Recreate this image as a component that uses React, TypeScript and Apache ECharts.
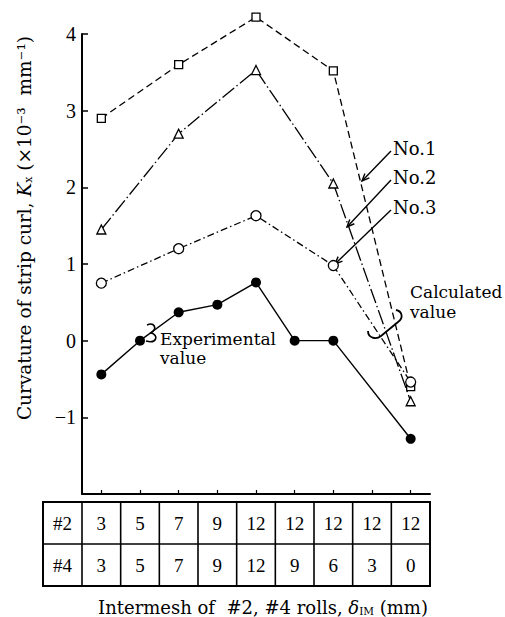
import React, { useEffect, useRef } from 'react';
import * as echarts from 'echarts';

// Table rows (intermesh of #2 and #4 rolls, mm)
const rollNo2 = [3, 5, 7, 9, 12, 12, 12, 12, 12];
const rollNo4 = [3, 5, 7, 9, 12, 9, 6, 3, 0];
const categories = rollNo2.map((v, i) => `${v}/${rollNo4[i]}`);

// Calculated values (null = not computed at that setting)
const calcNo1 = [2.9, null, 3.6, null, 4.22, null, 3.52, null, -0.6];
const calcNo2 = [1.45, null, 2.7, null, 3.53, null, 2.05, null, -0.79];
const calcNo3 = [0.75, null, 1.2, null, 1.63, null, 0.98, null, -0.54];
// Experimental values
const experimental = [-0.44, 0, 0.37, 0.47, 0.76, 0, 0, null, -1.28];

const yMin = -2;
const yMax = 4;
const yInterval = 1;

const W = 505;
const H = 617;
const GRID_LEFT = 82;
const GRID_RIGHT = 75;
const GRID_TOP = 34;
const GRID_BOTTOM = 123;
const GRID_W = W - GRID_LEFT - GRID_RIGHT;

const SERIF = 'DejaVu Serif, serif';
const NUMF = 'Liberation Serif, serif';

function arrowHead(x1: number, y1: number, x2: number, y2: number, len = 8, ang = 0.4) {
  const a = Math.atan2(y1 - y2, x1 - x2);
  return [
    [x2 + len * Math.cos(a + ang), y2 + len * Math.sin(a + ang)],
    [x2, y2],
    [x2 + len * Math.cos(a - ang), y2 + len * Math.sin(a - ang)],
  ];
}

echarts.graphic.registerShape(
  'calcBrace',
  echarts.graphic.extendPath('M396 310 C402 311 404 318 398 322 L381 336 C376 340 368 338 368 331', {})
);
echarts.graphic.registerShape(
  'expBrace',
  echarts.graphic.extendPath('M147 325 C154 322 158 328 151 333 C159 335 157 344 146 341', {})
);

export default function App() {
  const ref = useRef<HTMLDivElement>(null);
  useEffect(() => {
    if (!ref.current) return;
    const chart = echarts.init(ref.current, null, { renderer: 'svg' });

    const colW = GRID_W / categories.length;
    const tTop = 502;
    const tMid = 544;
    const tBot = 586;
    const tLeft = 43;
    const tRight = GRID_LEFT + GRID_W;

    const tableLines: any[] = [];
    tableLines.push({
      type: 'rect',
      shape: { x: tLeft, y: tTop, width: tRight - tLeft, height: tBot - tTop },
      style: { fill: 'none', stroke: '#000', lineWidth: 2 },
    });
    tableLines.push({
      type: 'line',
      shape: { x1: tLeft, y1: tMid, x2: tRight, y2: tMid },
      style: { stroke: '#000', lineWidth: 1.6 },
    });
    for (let i = 0; i < categories.length; i++) {
      const x = GRID_LEFT + i * colW;
      tableLines.push({
        type: 'line',
        shape: { x1: x, y1: tTop, x2: x, y2: tBot },
        style: { stroke: '#000', lineWidth: 1.6 },
      });
    }

    const leaders = [
      { label: 'No.1', ty: 148, from: [391, 151], to: [362, 181] },
      { label: 'No.2', ty: 177, from: [391, 180], to: [347, 227] },
      { label: 'No.3', ty: 207, from: [391, 210], to: [335, 264] },
    ];
    const leaderEls: any[] = [];
    leaders.forEach((l) => {
      leaderEls.push({
        type: 'text',
        x: 393,
        y: l.ty,
        style: { text: l.label, font: `18px ${SERIF}`, fill: '#000', verticalAlign: 'middle', align: 'left' },
      });
      leaderEls.push({
        type: 'line',
        shape: { x1: l.from[0], y1: l.from[1], x2: l.to[0], y2: l.to[1] },
        style: { stroke: '#000', lineWidth: 1.4 },
      });
      leaderEls.push({
        type: 'polyline',
        shape: { points: arrowHead(l.from[0], l.from[1], l.to[0], l.to[1]) },
        style: { stroke: '#000', lineWidth: 1.4, fill: 'none' },
      });
    });

    const markerStyle = { color: '#fff', borderColor: '#000', borderWidth: 1.3 };

    chart.setOption({
      animation: false,
      backgroundColor: '#fff',
      grid: { left: GRID_LEFT, right: GRID_RIGHT, top: GRID_TOP, bottom: GRID_BOTTOM, containLabel: false },
      xAxis: [
        {
          type: 'category',
          data: categories,
          boundaryGap: true,
          axisLine: { show: true, onZero: false, lineStyle: { color: '#000', width: 2 } },
          axisTick: { show: true, inside: true, alignWithLabel: true, length: 4, lineStyle: { color: '#000', width: 1.2 } },
          axisLabel: {
            show: true,
            margin: 29,
            verticalAlign: 'middle',
            color: '#000',
            fontFamily: NUMF,
            fontSize: 19,
            formatter: (_v: string, i: number) => String(rollNo2[i]),
          },
          splitLine: { show: false },
        },
        {
          type: 'category',
          data: categories,
          position: 'bottom',
          boundaryGap: true,
          axisLine: { show: false, onZero: false },
          axisTick: { show: false },
          axisLabel: {
            show: true,
            margin: 71,
            verticalAlign: 'middle',
            color: '#000',
            fontFamily: NUMF,
            fontSize: 19,
            formatter: (_v: string, i: number) => String(rollNo4[i]),
          },
          splitLine: { show: false },
        },
      ],
      yAxis: {
        type: 'value',
        min: yMin,
        max: yMax,
        interval: yInterval,
        axisLine: { show: true, onZero: false, lineStyle: { color: '#000', width: 2 } },
        axisTick: { show: true, inside: true, length: 6, lineStyle: { color: '#000', width: 1.5 } },
        axisLabel: {
          margin: 6,
          color: '#000',
          fontFamily: NUMF,
          fontSize: 20,
          formatter: (v: number) => (v === yMin ? '' : v < 0 ? '\u2212' + Math.abs(v) : String(v)),
        },
        splitLine: { show: false },
      },
      series: [
        {
          name: 'No.1',
          type: 'line',
          data: calcNo1,
          connectNulls: true,
          clip: false,
          symbol: 'rect',
          symbolSize: 8,
          itemStyle: markerStyle,
          lineStyle: { color: '#000', width: 1.3, type: [7, 4] },
          z: 3,
        },
        {
          name: 'No.2',
          type: 'line',
          data: calcNo2,
          connectNulls: true,
          clip: false,
          symbol: 'triangle',
          symbolSize: 9,
          itemStyle: markerStyle,
          lineStyle: { color: '#000', width: 1.3, type: [15, 3, 1.5, 3] },
          z: 3,
        },
        {
          name: 'No.3',
          type: 'line',
          data: calcNo3,
          connectNulls: true,
          clip: false,
          symbol: 'circle',
          symbolSize: 10,
          itemStyle: markerStyle,
          lineStyle: { color: '#000', width: 1.3, type: [7, 3, 1.5, 3] },
          z: 3,
        },
        {
          name: 'Experimental',
          type: 'line',
          data: experimental,
          connectNulls: true,
          clip: false,
          symbol: 'circle',
          symbolSize: 10,
          itemStyle: { color: '#000', borderColor: '#000', borderWidth: 0 },
          lineStyle: { color: '#000', width: 1.4, type: 'solid' },
          z: 4,
        },
      ],
      graphic: [
        ...tableLines,
        {
          type: 'text',
          x: (tLeft + GRID_LEFT) / 2,
          y: (tTop + tMid) / 2,
          style: { text: '#2', font: `19px ${NUMF}`, fill: '#000', align: 'center', verticalAlign: 'middle' },
        },
        {
          type: 'text',
          x: (tLeft + GRID_LEFT) / 2,
          y: (tMid + tBot) / 2,
          style: { text: '#4', font: `19px ${NUMF}`, fill: '#000', align: 'center', verticalAlign: 'middle' },
        },
        {
          type: 'text',
          x: 263,
          y: 605,
          style: {
            text: '{n|Intermesh of  #2, #4 rolls, }{d|δ}{s|IM}{n| (mm)}',
            align: 'center',
            verticalAlign: 'middle',
            fill: '#000',
            rich: {
              n: { fontFamily: SERIF, fontSize: 18, lineHeight: 22, verticalAlign: 'bottom' },
              d: { fontFamily: SERIF, fontSize: 18, fontStyle: 'italic', lineHeight: 22, verticalAlign: 'bottom' },
              s: { fontFamily: SERIF, fontSize: 10.5, lineHeight: 16, verticalAlign: 'bottom' },
            },
          },
        },
        {
          type: 'text',
          x: 22,
          y: 228,
          rotation: Math.PI / 2,
          style: {
            text: '{n|Curvature of strip curl, }{k|K}{s|x}{n| (×10⁻³  mm⁻¹)}',
            align: 'center',
            verticalAlign: 'middle',
            fill: '#000',
            rich: {
              n: { fontFamily: SERIF, fontSize: 18.5, lineHeight: 24, verticalAlign: 'bottom' },
              k: { fontFamily: SERIF, fontSize: 18.5, fontStyle: 'italic', lineHeight: 24, verticalAlign: 'bottom' },
              s: { fontFamily: SERIF, fontSize: 11, lineHeight: 18, verticalAlign: 'bottom' },
            },
          },
        },
        ...leaderEls,
        {
          type: 'text',
          x: 160,
          y: 348,
          style: {
            text: 'Experimental\nvalue',
            font: `17px ${SERIF}`,
            lineHeight: 19,
            fill: '#000',
            align: 'left',
            verticalAlign: 'middle',
          },
        },
        {
          type: 'text',
          x: 410,
          y: 302,
          style: {
            text: 'Calculated\nvalue',
            font: `17px ${SERIF}`,
            lineHeight: 20,
            fill: '#000',
            align: 'left',
            verticalAlign: 'middle',
          },
        },
        { type: 'calcBrace', x: 0, y: 0, style: { fill: 'none', stroke: '#000', lineWidth: 1.8 } },
        { type: 'expBrace', x: 0, y: 0, style: { fill: 'none', stroke: '#000', lineWidth: 1.6 } },
      ],
    });
    return () => chart.dispose();
  }, []);
  return <div ref={ref} style={{ position: 'fixed', left: 0, top: 0, width: W, height: H }} />;
}
